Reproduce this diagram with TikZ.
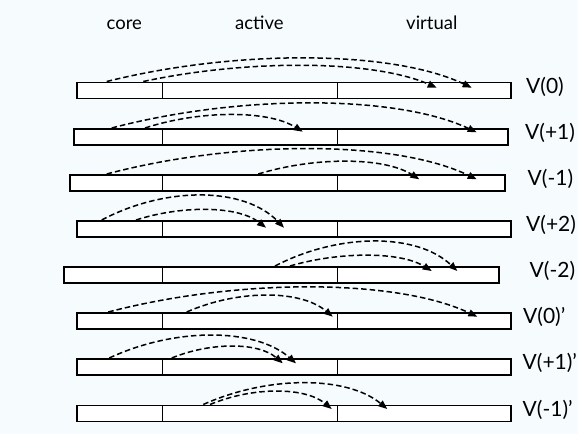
\documentclass[tikz,border=0pt]{standalone}
\usepackage{fontspec}
\setmainfont{Lato}
\usetikzlibrary{arrows.meta}
\definecolor{bgc}{RGB}{246,251,254}
\tikzset{
  seg/.style={draw=black, fill=white, line width=1.9pt, inner sep=0pt, minimum height=16pt, anchor=north west},
  darc/.style={draw=black, line width=1.5pt, dash pattern=on 5.5pt off 3pt, -{Triangle[length=9pt,width=7pt]}},
  hlbl/.style={font=\fontsize{18.5}{21}\selectfont, inner sep=0pt, anchor=base west},
  vlbl/.style={font=\fontsize{21}{24}\selectfont, inner sep=0pt, anchor=base west},
}
\newcommand\mkrow[4]{% name, left, right, top
  \node[seg, minimum width={161.5-#2}] (#1c) at (#2,#4) {};
  \node[seg, minimum width=175] (#1a) at (161.5,#4) {};
  \node[seg, minimum width={#3-336.5}] (#1v) at (336.5,#4) {};
}
\newcommand\myarc[6]{% name, xs, ys, xe, ye, peak
  \coordinate (#1s) at (#2,#3);
  \coordinate (#1e) at (#4,#5);
  \pgfmathsetmacro\arcCy{(#6-(#3+#5)/8)/0.75}
  \pgfmathsetmacro\arcCxa{#2+0.35*(#4-#2)}
  \pgfmathsetmacro\arcCxb{#2+0.78*(#4-#2)}
  \draw[darc] (#1s) .. controls (\arcCxa,\arcCy) and (\arcCxb,\arcCy) .. (#1e);
}
\begin{document}
\begin{tikzpicture}[x=1pt,y=-1pt]
\fill[bgc] (0,0) rectangle (578,434);
\useasboundingbox (0,0) rectangle (578,434);

\node[hlbl] (hcore) at (106.5,29) {core};
\node[hlbl] (hact) at (235,29) {active};
\node[hlbl] (hvir) at (406,29) {virtual};

\mkrow{r1}{75.7}{510}{81.5}
\mkrow{r2}{72.7}{506.7}{128}
\mkrow{r3}{69.3}{504.3}{174}
\mkrow{r4}{75.7}{510}{220}
\mkrow{r5}{63.3}{498.3}{266}
\mkrow{r6}{75.7}{510}{312}
\mkrow{r7}{75.7}{510}{358}
\mkrow{r8}{75.7}{510}{404.5}

\node[vlbl] (l1) at (526,93.5) {V(0)};
\node[vlbl] (l2) at (525,139.5) {V(+1)};
\node[vlbl] (l3) at (527.5,185.5) {V(-1)};
\node[vlbl] (l4) at (526,231.5) {V(+2)};
\node[vlbl] (l5) at (529.5,277.5) {V(-2)};
\node[vlbl] (l6) at (523,323.5) {V(0)'};
\node[vlbl] (l7) at (522.5,369.5) {V(+1)'};
\node[vlbl] (l8) at (522.5,416) {V(-1)'};

\myarc{a1}{106.7}{81.5}{471.7}{87.7}{58.3}
\myarc{b1}{143.3}{81.5}{436.7}{87.7}{65.7}
\myarc{a2}{111.7}{128}{476.7}{132.3}{103.3}
\myarc{b2}{145}{128}{302.7}{131.7}{115}
\myarc{a3}{106.7}{174}{476.7}{179.3}{149}
\myarc{b3}{258.3}{174}{419.3}{179.3}{161.7}
\myarc{a4}{101.7}{220}{284}{227.7}{195.7}
\myarc{b4}{136}{220}{266}{227.7}{210}
\myarc{a5}{275}{266}{457.3}{271}{241.7}
\myarc{b5}{290}{266}{431.7}{271}{255.7}
\myarc{a6}{108.3}{312}{477.3}{316.7}{287.3}
\myarc{b6}{186.7}{312}{332.7}{316.7}{295.7}
\myarc{a7}{109.3}{358}{296}{363.3}{335.7}
\myarc{b7}{171.7}{358}{282.7}{363.3}{346.7}
\myarc{a8}{203.3}{404.5}{387.3}{409}{383.3}
\myarc{b8}{210}{404.5}{331.7}{409}{391.7}
\end{tikzpicture}
\end{document}
